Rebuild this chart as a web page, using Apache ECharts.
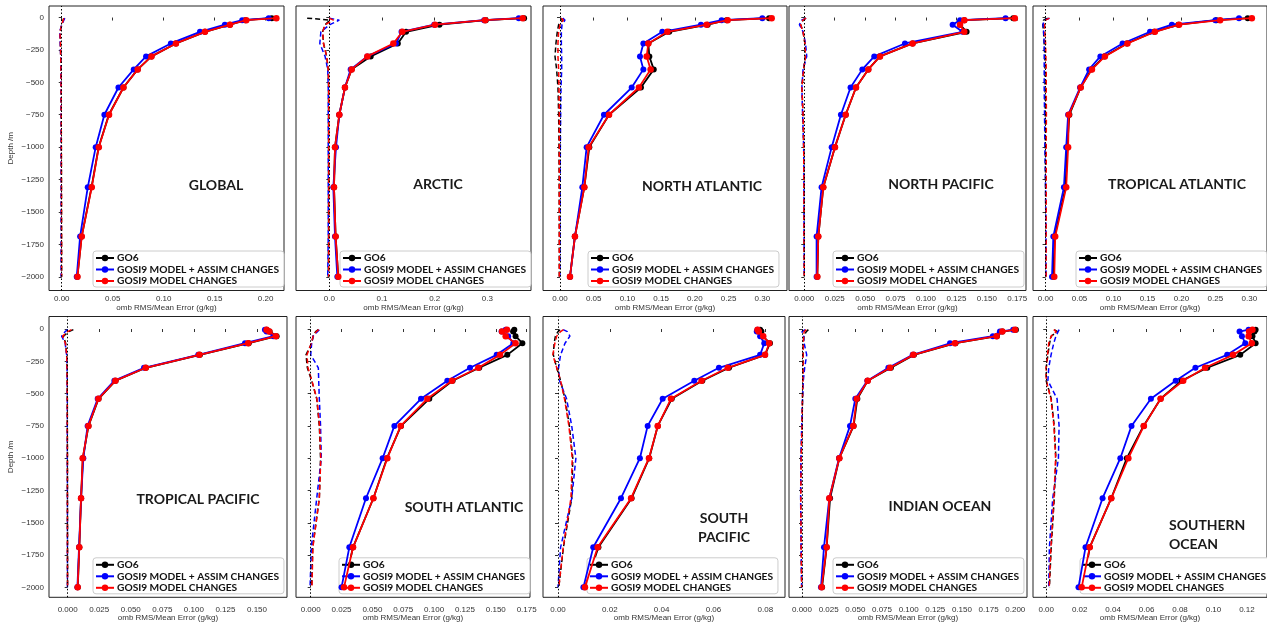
<!DOCTYPE html>
<html><head><meta charset="utf-8">
<script src="https://cdn.jsdelivr.net/npm/echarts@6/dist/echarts.min.js"></script>
<style>html,body{margin:0;padding:0;background:#fff}#c{width:1267px;height:625px}</style>
</head><body><div id="c"></div>
<script>
// ---------------- DATA ----------------
const DEPTHS = [-5, -20, -55, -110, -200, -300, -400, -540, -750, -1000, -1310, -1690, -2000];
const DEPTH_TICKS = [0, -250, -500, -750, -1000, -1250, -1500, -1750, -2000];
const SERIES_NAMES = ['GO6', 'GOSI9 MODEL + ASSIM CHANGES', 'GOSI9 MODEL CHANGES'];
const PANEL_NAMES = ['GLOBAL', 'ARCTIC', 'NORTH ATLANTIC', 'NORTH PACIFIC', 'TROPICAL ATLANTIC',
  'TROPICAL PACIFIC', 'SOUTH ATLANTIC', 'SOUTH\nPACIFIC', 'INDIAN OCEAN', 'SOUTHERN\nOCEAN'];
const X_NAME = 'omb RMS/Mean Error (g/kg)';
const Y_NAME = 'Depth /m';

// tick labels of each panel's x axis
const TICKS_GLOBAL = [0, 0.05, 0.10, 0.15, 0.20];
const TICKS_ARCTIC = [0, 0.1, 0.2, 0.3];
const TICKS_NATL = [0, 0.05, 0.10, 0.15, 0.20, 0.25, 0.30];
const TICKS_NPAC = [0, 0.025, 0.05, 0.075, 0.1, 0.125, 0.15, 0.175];
const TICKS_TATL = [0, 0.05, 0.10, 0.15, 0.20, 0.25, 0.30];
const TICKS_TPAC = [0, 0.025, 0.05, 0.075, 0.1, 0.125, 0.15];
const TICKS_SATL = [0, 0.025, 0.05, 0.075, 0.1, 0.125, 0.15, 0.175];
const TICKS_SPAC = [0, 0.02, 0.04, 0.06, 0.08];
const TICKS_IND = [0, 0.025, 0.05, 0.075, 0.1, 0.125, 0.15, 0.175, 0.2];
const TICKS_SO = [0, 0.02, 0.04, 0.06, 0.08, 0.10, 0.12];

// RMS (solid) and mean error (dashed) profiles, one value per depth
const GLOBAL_RMS_GO6   = [0.206, 0.180, 0.165, 0.1405, 0.112, 0.088, 0.0745, 0.0605, 0.0462, 0.0362, 0.0292, 0.0195, 0.0153];
const GLOBAL_RMS_ASSIM = [0.203, 0.177, 0.160, 0.1356, 0.107, 0.0827, 0.0706, 0.0556, 0.0418, 0.0333, 0.0255, 0.018, 0.0147];
const GLOBAL_RMS_MODEL = [0.2105, 0.181, 0.165, 0.1405, 0.112, 0.088, 0.0745, 0.0605, 0.0464, 0.0363, 0.0294, 0.0196, 0.0154];
const GLOBAL_ME_GO6    = [0.002, 0.003, 0.0, -0.0015, -0.0012, -0.001, -0.0008, -0.0006, -0.0005, -0.0004, -0.0003, -0.0002, -0.0001];
const GLOBAL_ME_ASSIM  = [0.003, 0.004, 0.0, -0.002, -0.0015, -0.001, -0.0008, -0.0006, -0.0006, -0.0006, -0.0006, -0.0006, -0.0007];
const GLOBAL_ME_MODEL  = [0.002, 0.003, 0.0, -0.0018, -0.0013, -0.001, -0.0008, -0.0006, -0.0005, -0.0004, -0.0003, -0.0002, -0.0002];

const ARCTIC_RMS_GO6   = [0.3696, 0.297, 0.209, 0.1456, 0.130, 0.0785, 0.0424, 0.0297, 0.019, 0.0108, 0.0089, 0.012, 0.017];
const ARCTIC_RMS_ASSIM = [0.3595, 0.2937, 0.199, 0.137, 0.1266, 0.072, 0.0405, 0.0297, 0.019, 0.0127, 0.0076, 0.0108, 0.0152];
const ARCTIC_RMS_MODEL = [0.367, 0.2955, 0.2006, 0.1386, 0.1215, 0.0722, 0.0424, 0.0297, 0.019, 0.0108, 0.0089, 0.012, 0.017];
const ARCTIC_ME_GO6    = [-0.042, 0.001, -0.008, -0.0127, -0.011, -0.005, -0.002, -0.0015, -0.0015, -0.0015, -0.0015, -0.0015, -0.002];
const ARCTIC_ME_ASSIM  = [0.0, 0.019, 0.001, -0.016, -0.018, -0.008, -0.003, -0.002, -0.002, -0.002, -0.002, -0.002, -0.003];
const ARCTIC_ME_MODEL  = [0.0, 0.0076, -0.008, -0.0127, -0.011, -0.005, -0.002, -0.001, -0.001, -0.001, -0.0008, -0.0008, -0.001];

const NATL_RMS_GO6   = [0.310, 0.247, 0.219, 0.162, 0.131, 0.1325, 0.139, 0.120, 0.0727, 0.0435, 0.036, 0.022, 0.0148];
const NATL_RMS_ASSIM = [0.300, 0.2397, 0.209, 0.1517, 0.1236, 0.1186, 0.1236, 0.1063, 0.0652, 0.0395, 0.0331, 0.0222, 0.0148];
const NATL_RMS_MODEL = [0.3139, 0.2486, 0.2175, 0.1592, 0.131, 0.1285, 0.1344, 0.117, 0.0727, 0.0425, 0.0361, 0.0222, 0.0148];
const NATL_ME_GO6    = [0.001, 0.004, -0.002, -0.004, -0.006, -0.0074, -0.005, -0.003, -0.002, -0.0015, -0.0012, -0.001, -0.001];
const NATL_ME_ASSIM  = [0.004, 0.0074, 0.003, 0.002, 0.002, 0.0025, 0.0025, 0.0015, 0.001, 0.0005, 0.0003, 0.0002, 0.0];
const NATL_ME_MODEL  = [0.002, 0.005, 0.0, -0.002, -0.003, -0.003, -0.002, -0.0015, -0.001, -0.001, -0.001, -0.001, -0.001];

const NPAC_RMS_GO6   = [0.1717, 0.1315, 0.128, 0.1334, 0.089, 0.0622, 0.0526, 0.0425, 0.034, 0.0252, 0.0156, 0.0115, 0.0107];
const NPAC_RMS_ASSIM = [0.1654, 0.128, 0.1219, 0.130, 0.0827, 0.0575, 0.0477, 0.038, 0.0301, 0.0225, 0.0142, 0.0101, 0.0101];
const NPAC_RMS_MODEL = [0.173, 0.1315, 0.128, 0.1315, 0.089, 0.0622, 0.0526, 0.0425, 0.034, 0.0252, 0.0156, 0.0115, 0.0107];
const NPAC_ME_GO6    = [0.0014, -0.001, -0.003, -0.001, 0.0005, 0.0008, -0.0005, -0.002, -0.001, -0.0005, -0.0003, -0.0002, 0.0];
const NPAC_ME_ASSIM  = [0.0014, -0.0022, -0.004, -0.001, 0.001, 0.002, -0.001, -0.002, -0.0014, -0.0005, -0.0003, -0.0002, 0.0];
const NPAC_ME_MODEL  = [0.0014, -0.0012, -0.003, -0.001, 0.0005, 0.001, -0.0005, -0.002, -0.001, -0.0005, -0.0003, -0.0002, 0.0];

const TATL_RMS_GO6   = [0.2976, 0.2515, 0.1955, 0.160, 0.1196, 0.0864, 0.0674, 0.0517, 0.0351, 0.0318, 0.0294, 0.0133, 0.0114];
const TATL_RMS_ASSIM = [0.2848, 0.250, 0.186, 0.1538, 0.1134, 0.0807, 0.0641, 0.0508, 0.0332, 0.0304, 0.027, 0.0114, 0.0095];
const TATL_RMS_MODEL = [0.3037, 0.257, 0.1965, 0.161, 0.1205, 0.0873, 0.0683, 0.0517, 0.0342, 0.0332, 0.0304, 0.0142, 0.0128];
const TATL_ME_GO6    = [0.003, -0.003, -0.004, -0.003, -0.002, -0.001, -0.001, -0.0008, -0.0005, -0.0003, 0.0, 0.0005, 0.0005];
const TATL_ME_ASSIM  = [0.0057, -0.002, -0.0038, -0.0028, -0.002, -0.002, -0.002, -0.002, -0.0015, -0.001, 0.0, 0.0005, 0.0005];
const TATL_ME_MODEL  = [0.0057, 0.0, -0.0014, -0.001, 0.0, 0.0005, 0.001, 0.001, 0.0012, 0.001, 0.001, 0.0008, 0.0008];

const TPAC_RMS_GO6   = [0.1576, 0.160, 0.1656, 0.1435, 0.1048, 0.062, 0.038, 0.0245, 0.0165, 0.012, 0.0106, 0.0092, 0.008];
const TPAC_RMS_ASSIM = [0.1563, 0.1576, 0.163, 0.1405, 0.1035, 0.0605, 0.037, 0.0238, 0.0158, 0.0124, 0.0106, 0.009, 0.0077];
const TPAC_RMS_MODEL = [0.1576, 0.1598, 0.165, 0.143, 0.1043, 0.0618, 0.0378, 0.0243, 0.0164, 0.0119, 0.0106, 0.0092, 0.0079];
const TPAC_ME_GO6    = [0.0045, 0.001, -0.0034, -0.0016, -0.0008, -0.0005, -0.0004, -0.0003, -0.0003, -0.0002, -0.0002, -0.0001, -0.0001];
const TPAC_ME_ASSIM  = [0.0, -0.002, -0.0048, -0.002, -0.0008, -0.0005, -0.0004, -0.0003, -0.0003, -0.0003, -0.0002, -0.0002, -0.0002];
const TPAC_ME_MODEL  = [0.003, 0.0, -0.004, -0.0018, -0.0008, -0.0005, -0.0004, -0.0003, -0.0003, -0.0002, -0.0002, -0.0002, -0.0001];

const SATL_RMS_GO6   = [0.165, 0.164, 0.166, 0.1715, 0.1593, 0.1366, 0.115, 0.0961, 0.0732, 0.0618, 0.0508, 0.0343, 0.027];
const SATL_RMS_ASSIM = [0.158, 0.1547, 0.160, 0.1642, 0.1507, 0.1291, 0.1107, 0.0894, 0.0678, 0.0583, 0.0448, 0.0313, 0.025];
const SATL_RMS_MODEL = [0.159, 0.155, 0.158, 0.166, 0.1534, 0.1358, 0.1145, 0.0945, 0.0729, 0.0621, 0.0508, 0.0343, 0.027];
const SATL_ME_GO6    = [0.0062, 0.004, 0.002, 0.0008, -0.0038, -0.0027, 0.0008, 0.0049, 0.007, 0.008, 0.007, 0.0016, 0.0008];
const SATL_ME_ASSIM  = [0.007, 0.0055, 0.002, 0.0008, 0.0, 0.0062, 0.0065, 0.007, 0.008, 0.0086, 0.0049, 0.0005, -0.0005];
const SATL_ME_MODEL  = [0.0065, 0.0045, 0.002, 0.0005, -0.003, -0.0022, 0.001, 0.005, 0.0072, 0.0082, 0.007, 0.0018, 0.001];

const SPAC_RMS_GO6   = [0.078, 0.0785, 0.079, 0.0818, 0.0799, 0.066, 0.0557, 0.0439, 0.0385, 0.0352, 0.0284, 0.0156, 0.0104];
const SPAC_RMS_ASSIM = [0.077, 0.0767, 0.078, 0.0796, 0.078, 0.0621, 0.0526, 0.0404, 0.0346, 0.0316, 0.0243, 0.0136, 0.0098];
const SPAC_RMS_MODEL = [0.077, 0.0775, 0.0792, 0.0815, 0.0799, 0.0655, 0.0554, 0.0436, 0.0385, 0.0351, 0.0282, 0.0153, 0.0104];
const SPAC_ME_GO6    = [0.0008, 0.0, -0.001, -0.0015, -0.0018, -0.0005, 0.001, 0.0027, 0.0044, 0.0057, 0.0053, 0.0021, 0.0003];
const SPAC_ME_ASSIM  = [0.002, 0.0036, 0.0046, 0.0027, 0.001, 0.0002, 0.0006, 0.0033, 0.0053, 0.0069, 0.0053, 0.001, 0.0];
const SPAC_ME_MODEL  = [0.0021, 0.001, -0.0005, -0.0012, -0.002, -0.0005, 0.001, 0.0025, 0.0042, 0.0055, 0.005, 0.002, 0.0003];

const IND_RMS_GO6   = [0.2006, 0.188, 0.1828, 0.144, 0.105, 0.0834, 0.0616, 0.0519, 0.0484, 0.035, 0.0263, 0.0231, 0.0188];
const IND_RMS_ASSIM = [0.198, 0.1856, 0.179, 0.1388, 0.1038, 0.081, 0.0613, 0.05, 0.045, 0.0347, 0.0256, 0.0206, 0.0178];
const IND_RMS_MODEL = [0.1997, 0.1878, 0.1825, 0.1434, 0.1044, 0.0825, 0.0616, 0.0513, 0.0481, 0.035, 0.0256, 0.0231, 0.0184];
const IND_ME_GO6    = [0.006, 0.004, 0.0019, 0.0012, 0.001, 0.001, 0.0008, 0.0005, 0.0, -0.0008, -0.0012, -0.0008, -0.0003];
const IND_ME_ASSIM  = [0.003, 0.0, 0.0015, 0.002, 0.0044, 0.0025, 0.0012, 0.0005, -0.0003, -0.001, -0.0013, -0.0008, -0.0003];
const IND_ME_MODEL  = [0.004, 0.002, 0.0015, 0.0012, 0.001, 0.001, 0.0008, 0.0004, 0.0, -0.0008, -0.0012, -0.0008, -0.0003];

const SO_RMS_GO6   = [0.1252, 0.1245, 0.1233, 0.1252, 0.116, 0.0963, 0.0809, 0.0684, 0.0582, 0.0482, 0.0389, 0.026, 0.0221];
const SO_RMS_ASSIM = [0.121, 0.1156, 0.117, 0.119, 0.1082, 0.0892, 0.0774, 0.0626, 0.051, 0.0443, 0.0337, 0.0235, 0.0193];
const SO_RMS_MODEL = [0.1233, 0.1213, 0.121, 0.1229, 0.1117, 0.095, 0.0819, 0.0684, 0.0584, 0.0491, 0.0389, 0.026, 0.0212];
const SO_ME_GO6    = [0.0048, 0.0067, 0.003, 0.002, 0.001, 0.0, 0.0, 0.003, 0.0048, 0.0058, 0.0048, 0.003, 0.0019];
const SO_ME_ASSIM  = [0.0077, 0.0087, 0.0058, 0.0045, 0.0029, 0.0015, 0.001, 0.0065, 0.0077, 0.0073, 0.0039, 0.0019, 0.0015];
const SO_ME_MODEL  = [0.0045, 0.006, 0.003, 0.0015, 0.0008, 0.0, 0.0, 0.0028, 0.0046, 0.0056, 0.0046, 0.0028, 0.0018];

const PANEL_DATA = [
  {rms: [GLOBAL_RMS_GO6, GLOBAL_RMS_ASSIM, GLOBAL_RMS_MODEL], me: [GLOBAL_ME_GO6, GLOBAL_ME_ASSIM, GLOBAL_ME_MODEL], ticks: TICKS_GLOBAL, dec: 2},
  {rms: [ARCTIC_RMS_GO6, ARCTIC_RMS_ASSIM, ARCTIC_RMS_MODEL], me: [ARCTIC_ME_GO6, ARCTIC_ME_ASSIM, ARCTIC_ME_MODEL], ticks: TICKS_ARCTIC, dec: 1},
  {rms: [NATL_RMS_GO6, NATL_RMS_ASSIM, NATL_RMS_MODEL], me: [NATL_ME_GO6, NATL_ME_ASSIM, NATL_ME_MODEL], ticks: TICKS_NATL, dec: 2},
  {rms: [NPAC_RMS_GO6, NPAC_RMS_ASSIM, NPAC_RMS_MODEL], me: [NPAC_ME_GO6, NPAC_ME_ASSIM, NPAC_ME_MODEL], ticks: TICKS_NPAC, dec: 3},
  {rms: [TATL_RMS_GO6, TATL_RMS_ASSIM, TATL_RMS_MODEL], me: [TATL_ME_GO6, TATL_ME_ASSIM, TATL_ME_MODEL], ticks: TICKS_TATL, dec: 2},
  {rms: [TPAC_RMS_GO6, TPAC_RMS_ASSIM, TPAC_RMS_MODEL], me: [TPAC_ME_GO6, TPAC_ME_ASSIM, TPAC_ME_MODEL], ticks: TICKS_TPAC, dec: 3},
  {rms: [SATL_RMS_GO6, SATL_RMS_ASSIM, SATL_RMS_MODEL], me: [SATL_ME_GO6, SATL_ME_ASSIM, SATL_ME_MODEL], ticks: TICKS_SATL, dec: 3},
  {rms: [SPAC_RMS_GO6, SPAC_RMS_ASSIM, SPAC_RMS_MODEL], me: [SPAC_ME_GO6, SPAC_ME_ASSIM, SPAC_ME_MODEL], ticks: TICKS_SPAC, dec: 2},
  {rms: [IND_RMS_GO6, IND_RMS_ASSIM, IND_RMS_MODEL], me: [IND_ME_GO6, IND_ME_ASSIM, IND_ME_MODEL], ticks: TICKS_IND, dec: 3},
  {rms: [SO_RMS_GO6, SO_RMS_ASSIM, SO_RMS_MODEL], me: [SO_ME_GO6, SO_ME_ASSIM, SO_ME_MODEL], ticks: TICKS_SO, dec: 2}
];

// ---------------- LAYOUT ----------------
const COLORS = ['#000000', '#0000ff', '#ff0000'];
const ROWS = [
  {top: 6, bottom: 290.5, ymin: -2106, ymax: 89, labelMargin: 3, nameGap: 12},
  {top: 316.5, bottom: 597.3, ymin: -2077, ymax: 97, labelMargin: 7, nameGap: 16}
];
const LAYOUT = [
  {row: 0, l: 49, r: 284, xmin: -0.0125, xmax: 0.218, lgX: 93, tx: 216, ty: 185, align: 'center'},
  {row: 0, l: 296, r: 531, xmin: -0.0632, xmax: 0.3827, lgX: 340, tx: 438, ty: 184, align: 'center'},
  {row: 0, l: 543, r: 787, xmin: -0.0252, xmax: 0.3366, lgX: 588, tx: 702, ty: 186, align: 'center'},
  {row: 0, l: 789, r: 1026, xmin: -0.01257, xmax: 0.1822, lgX: 833, tx: 941, ty: 184, align: 'center'},
  {row: 0, l: 1033, r: 1275, xmin: -0.0185, xmax: 0.326, lgX: 1076, tx: 1177, ty: 184, align: 'center'},
  {row: 1, l: 49, r: 287, xmin: -0.0148, xmax: 0.1738, lgX: 93, tx: 198, ty: 499, align: 'center'},
  {row: 1, l: 296, r: 530, xmin: -0.0119, xmax: 0.1777, lgX: 339, tx: 464, ty: 507, align: 'center'},
  {row: 1, l: 543, r: 785, xmin: -0.00579, xmax: 0.0876, lgX: 587, tx: 724, ty: 528, align: 'center'},
  {row: 1, l: 789, r: 1027, xmin: -0.0122, xmax: 0.211, lgX: 833, tx: 940, ty: 506, align: 'center'},
  {row: 1, l: 1033, r: 1275, xmin: -0.0079, xmax: 0.132, lgX: 1080, tx: 1169, ty: 535, align: 'left'}
];
const TICK_FONT = 'Liberation Sans';

const fmtY = v => (v < 0 ? '\u2212' + Math.abs(v) : String(v));

const grids = [], xAxes = [], yAxes = [], series = [], legends = [], graphics = [];
LAYOUT.forEach((L, i) => {
  const R = ROWS[L.row];
  const D = PANEL_DATA[i];
  grids.push({left: L.l, top: R.top, width: L.r - L.l, height: R.bottom - R.top,
    show: true, borderColor: '#222', borderWidth: 1, backgroundColor: '#fff', containLabel: false});
  xAxes.push({type: 'value', gridIndex: i, min: L.xmin, max: L.xmax,
    name: X_NAME, nameLocation: 'middle', nameGap: R.nameGap,
    nameTextStyle: {fontSize: 8, color: '#333', fontFamily: TICK_FONT},
    axisLine: {show: false}, splitLine: {show: false},
    axisTick: {show: true, inside: false, length: 3, customValues: D.ticks, lineStyle: {color: '#333'}},
    axisLabel: {show: true, margin: R.labelMargin + 1, fontSize: 8, color: '#333', fontFamily: TICK_FONT,
      customValues: D.ticks, formatter: v => Number(v).toFixed(D.dec)}
  });
  const first = (i === 0 || i === 5);
  yAxes.push({type: 'value', gridIndex: i, min: R.ymin, max: R.ymax,
    name: first ? Y_NAME : '', nameLocation: 'middle', nameGap: 34,
    nameTextStyle: {fontSize: 8, color: '#333', fontFamily: TICK_FONT},
    axisLine: {show: false}, splitLine: {show: false},
    axisTick: {show: true, inside: false, length: 3, customValues: DEPTH_TICKS, lineStyle: {color: '#333'}},
    axisLabel: {show: first, margin: 5, fontSize: 8, color: '#333', fontFamily: TICK_FONT,
      customValues: DEPTH_TICKS, formatter: fmtY}
  });
  // mean error dashed profiles
  D.me.forEach((arr, k) => {
    series.push({type: 'line', name: SERIES_NAMES[k] + ' mean', xAxisIndex: i, yAxisIndex: i,
      data: arr.map((v, j) => [v, DEPTHS[j]]), showSymbol: false, symbol: 'none', silent: true,
      lineStyle: {color: COLORS[k], width: 1.5, type: [5, 3]}, z: 2,
      markLine: k === 0 ? {silent: true, symbol: 'none', label: {show: false},
        lineStyle: {color: '#000', type: [1.5, 2], width: 1}, data: [{xAxis: 0}]} : undefined
    });
  });
  // RMS solid profiles
  D.rms.forEach((arr, k) => {
    series.push({type: 'line', name: SERIES_NAMES[k], xAxisIndex: i, yAxisIndex: i,
      data: arr.map((v, j) => [v, DEPTHS[j]]), symbol: 'circle', symbolSize: k === 2 ? 6.5 : 6, showSymbol: true,
      itemStyle: {color: COLORS[k]}, lineStyle: {color: COLORS[k], width: 1.8}, z: 3 + k
    });
  });
  legends.push({show: true, orient: 'vertical', left: L.lgX, top: R.bottom - 39.5, data: SERIES_NAMES.slice(),
    selectedMode: false, itemWidth: 18, itemHeight: 8, itemGap: 1.5, padding: [2, 5, 1, 2],
    backgroundColor: '#fff', borderColor: '#ccc', borderWidth: 1, borderRadius: 3,
    textStyle: {fontFamily: 'Lato', fontWeight: 'bold', fontSize: 10.2, lineHeight: 10, color: '#111', padding: [0, 0, 0, -2]}
  });
  graphics.push({type: 'text', x: L.tx, y: L.ty, z: 100,
    style: {text: PANEL_NAMES[i], font: 'bold 14px Lato', fill: '#1a1a1a', textAlign: L.align,
      textVerticalAlign: 'middle', lineHeight: 19}});
});

const chart = echarts.init(document.getElementById('c'), null, {renderer: 'canvas'});
chart.setOption({
  backgroundColor: '#fff', animation: false,
  grid: grids, xAxis: xAxes, yAxis: yAxes, series: series, legend: legends,
  graphic: graphics, tooltip: {show: false}
});
</script></body></html>
